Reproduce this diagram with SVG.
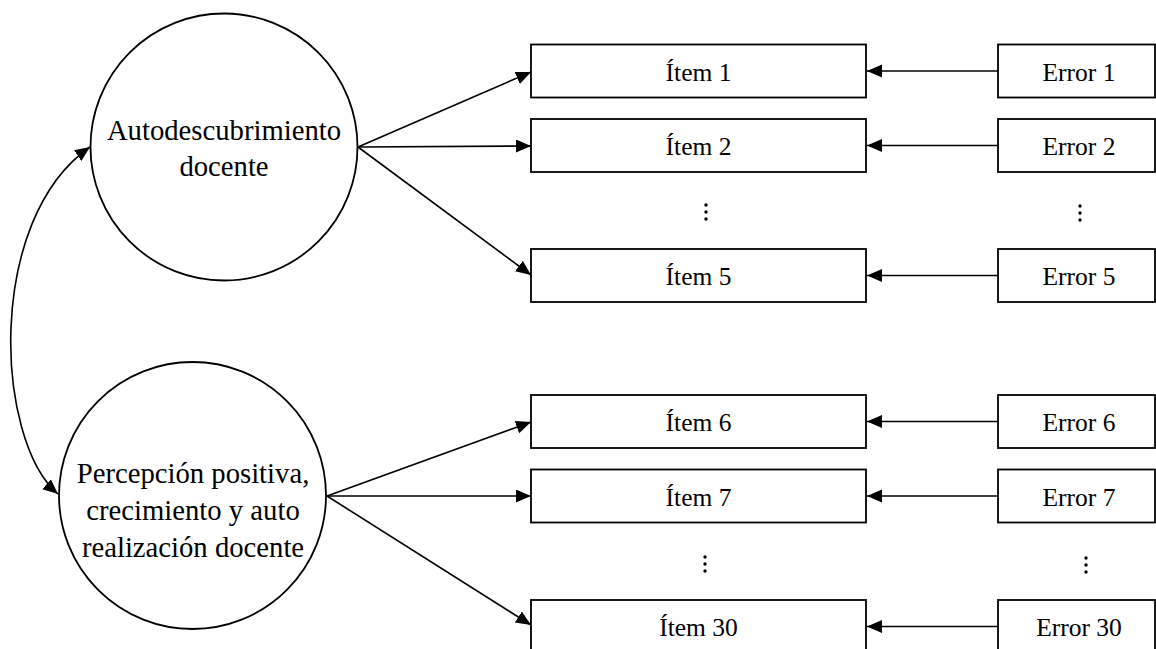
<svg xmlns="http://www.w3.org/2000/svg" width="1156" height="649" viewBox="0 0 1156 649">
<style>
.node{fill:#fff;stroke:#000;stroke-width:1.8}
.lbl{font-family:"Liberation Serif","Times New Roman","DejaVu Serif",serif;fill:#000;text-anchor:middle}
.big{font-size:28.7px}
.box{font-size:25.5px}
.edge{fill:none;stroke:#000;stroke-width:1.6}
.dot{fill:#000}
</style>
<defs>
<marker id="ah" markerUnits="userSpaceOnUse" markerWidth="16" markerHeight="14" refX="15" refY="6.5" orient="auto-start-reverse">
<path d="M0,0 L15,6.5 L0,13 z" fill="#000"/>
</marker>
</defs>
<rect width="1156" height="649" fill="#fff"/>
<g id="connectors">
<path class="edge" d="M58,494 C-5,440 -15,220 90,147" marker-start="url(#ah)" marker-end="url(#ah)"/>
<line class="edge" x1="358" y1="147" x2="531" y2="72" marker-end="url(#ah)"/>
<line class="edge" x1="358" y1="147" x2="531" y2="146" marker-end="url(#ah)"/>
<line class="edge" x1="358" y1="147" x2="531" y2="275" marker-end="url(#ah)"/>
<line class="edge" x1="327" y1="496" x2="531" y2="422" marker-end="url(#ah)"/>
<line class="edge" x1="327" y1="496" x2="531" y2="496" marker-end="url(#ah)"/>
<line class="edge" x1="327" y1="496" x2="531" y2="625" marker-end="url(#ah)"/>
<line class="edge" x1="998" y1="71" x2="867" y2="71" marker-end="url(#ah)"/>
<line class="edge" x1="998" y1="145.5" x2="867" y2="145.5" marker-end="url(#ah)"/>
<line class="edge" x1="998" y1="275.5" x2="867" y2="275.5" marker-end="url(#ah)"/>
<line class="edge" x1="998" y1="421.5" x2="867" y2="421.5" marker-end="url(#ah)"/>
<line class="edge" x1="998" y1="496" x2="867" y2="496" marker-end="url(#ah)"/>
<line class="edge" x1="998" y1="626.5" x2="867" y2="626.5" marker-end="url(#ah)"/>
</g>
<g id="f1">
<circle class="node" cx="224" cy="147" r="133.5"/>
<text class="lbl big" x="224" y="140">Autodescubrimiento</text>
<text class="lbl big" x="224" y="176">docente</text>
</g>
<g id="f2">
<circle class="node" cx="192.5" cy="495.5" r="133.5"/>
<text class="lbl big" x="193" y="483">Percepción positiva,</text>
<text class="lbl big" x="193" y="520">crecimiento y auto</text>
<text class="lbl big" x="193" y="557">realización docente</text>
</g>
<g id="item1"><rect class="node" x="531" y="44.5" width="335" height="53"/><text class="lbl box" x="698.5" y="80.5">Ítem 1</text></g>
<g id="item2"><rect class="node" x="531" y="119" width="335" height="53"/><text class="lbl box" x="698.5" y="155">Ítem 2</text></g>
<g id="item5"><rect class="node" x="531" y="249" width="335" height="53"/><text class="lbl box" x="698.5" y="285">Ítem 5</text></g>
<g id="item6"><rect class="node" x="531" y="395" width="335" height="53"/><text class="lbl box" x="698.5" y="431">Ítem 6</text></g>
<g id="item7"><rect class="node" x="531" y="469.5" width="335" height="53"/><text class="lbl box" x="698.5" y="505.5">Ítem 7</text></g>
<g id="item30"><rect class="node" x="531" y="600" width="335" height="53"/><text class="lbl box" x="698.5" y="636">Ítem 30</text></g>
<g id="error1"><rect class="node" x="998" y="44.5" width="157" height="53"/><text class="lbl box" x="1079" y="80.5">Error 1</text></g>
<g id="error2"><rect class="node" x="998" y="119" width="157" height="53"/><text class="lbl box" x="1079" y="155">Error 2</text></g>
<g id="error5"><rect class="node" x="998" y="249" width="157" height="53"/><text class="lbl box" x="1079" y="285">Error 5</text></g>
<g id="error6"><rect class="node" x="998" y="395" width="157" height="53"/><text class="lbl box" x="1079" y="431">Error 6</text></g>
<g id="error7"><rect class="node" x="998" y="469.5" width="157" height="53"/><text class="lbl box" x="1079" y="505.5">Error 7</text></g>
<g id="error30"><rect class="node" x="998" y="600" width="157" height="53"/><text class="lbl box" x="1079" y="636">Error 30</text></g>
<g id="ellipses">
<circle class="dot" cx="706" cy="205" r="1.7"/><circle class="dot" cx="706" cy="212" r="1.7"/><circle class="dot" cx="706" cy="219" r="1.7"/>
<circle class="dot" cx="1080" cy="206" r="1.7"/><circle class="dot" cx="1080" cy="213" r="1.7"/><circle class="dot" cx="1080" cy="220" r="1.7"/>
<circle class="dot" cx="705" cy="557" r="1.7"/><circle class="dot" cx="705" cy="564" r="1.7"/><circle class="dot" cx="705" cy="571" r="1.7"/>
<circle class="dot" cx="1086" cy="558" r="1.7"/><circle class="dot" cx="1086" cy="565" r="1.7"/><circle class="dot" cx="1086" cy="572" r="1.7"/>
</g>
</svg>
